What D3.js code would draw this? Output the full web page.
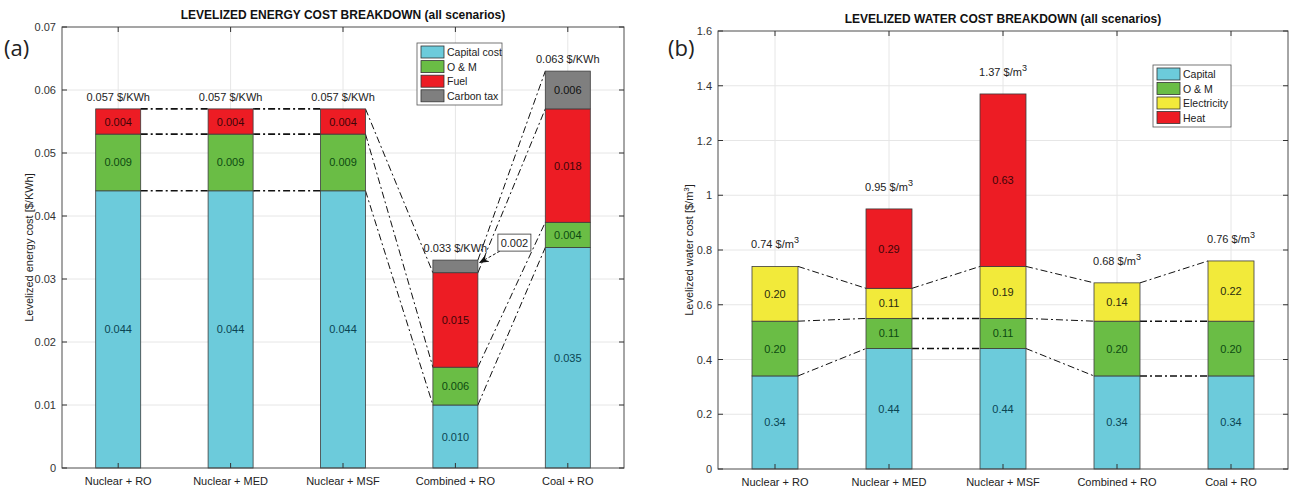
<!DOCTYPE html>
<html>
<head>
<meta charset="utf-8">
<script src="https://cdn.jsdelivr.net/npm/d3@7"></script>
<style>
  body { margin: 0; background: #fff; }
  svg { display: block; font-family: "Liberation Sans", Arial, sans-serif; }
</style>
</head>
<body>
<script>
// categories shared by both panels
const categories = ["Nuclear + RO", "Nuclear + MED", "Nuclear + MSF", "Combined + RO", "Coal + RO"];

// (a) levelized energy cost [$/KWh]
const energyCapital = [0.044, 0.044, 0.044, 0.010, 0.035];
const energyOM      = [0.009, 0.009, 0.009, 0.006, 0.004];
const energyFuel    = [0.004, 0.004, 0.004, 0.015, 0.018];
const energyCarbon  = [0, 0, 0, 0.002, 0.006];
const energyTotals  = ["0.057", "0.057", "0.057", "0.033", "0.063"];
const energyTicks   = [0, 0.01, 0.02, 0.03, 0.04, 0.05, 0.06, 0.07];
const energyLegend  = ["Capital cost", "O & M", "Fuel", "Carbon tax"];

// (b) levelized water cost [$/m3]
const waterCapital = [0.34, 0.44, 0.44, 0.34, 0.34];
const waterOM      = [0.20, 0.11, 0.11, 0.20, 0.20];
const waterElec    = [0.20, 0.11, 0.19, 0.14, 0.22];
const waterHeat    = [0, 0.29, 0.63, 0, 0];
const waterTotals  = ["0.74", "0.95", "1.37", "0.68", "0.76"];
const waterTicks   = [0, 0.2, 0.4, 0.6, 0.8, 1, 1.2, 1.4, 1.6];
const waterLegend  = ["Capital", "O & M", "Electricity", "Heat"];

const COLORS = {
  cyan: '#6ccbdb',
  green: '#6abd45',
  red: '#ed1c24',
  gray: '#7f7f7f',
  yellow: '#f2ea3a'
};
const TEXT_COLORS = {
  '#6ccbdb': '#0b4553',
  '#6abd45': '#0d4a12',
  '#ed1c24': '#3d0508',
  '#7f7f7f': '#111',
  '#f2ea3a': '#2a2a10'
};

const W = 1292, H = 492;
const svg = d3.select("body").append("svg")
  .attr("width", W)
  .attr("height", H)
  .attr("viewBox", [0, 0, W, H]);

const defs = svg.append("defs");
defs.append("marker")
    .attr("id", "arrow")
    .attr("viewBox", [0, 0, 10, 8])
    .attr("refX", 10)
    .attr("refY", 4)
    .attr("markerWidth", 10)
    .attr("markerHeight", 8)
    .attr("markerUnits", "userSpaceOnUse")
    .attr("orient", "auto")
  .append("path")
    .attr("d", "M0,0 L10,4 L0,8 L3,4 Z")
    .attr("fill", "#111");

function drawPanel(cfg) {
  const { left, right, top, bottom } = cfg.box;
  const g = svg.append("g");

  const x = d3.scalePoint().domain(categories).range([left, right]).padding(0.5);
  const y = d3.scaleLinear().domain([0, cfg.yMax]).range([bottom, top]);
  const bw = cfg.barWidth;

  // grid
  g.append("g").selectAll("line").data(categories).join("line")
    .attr("x1", d => x(d)).attr("x2", d => x(d))
    .attr("y1", top).attr("y2", bottom)
    .attr("stroke", "#e6e6e6").attr("stroke-width", 1);
  g.append("g").selectAll("line").data(cfg.ticks.slice(1, -1)).join("line")
    .attr("x1", left).attr("x2", right)
    .attr("y1", d => y(d)).attr("y2", d => y(d))
    .attr("stroke", "#e6e6e6").attr("stroke-width", 1);

  // stacked bars
  const rows = categories.map((c, i) => {
    let acc = 0;
    const segs = cfg.series.map((s, k) => {
      const y0 = acc;
      acc += s.values[i];
      return { cat: c, k, v: s.values[i], y0, y1: acc, color: s.color };
    });
    return { cat: c, i, segs, total: acc };
  });

  // dash-dot connectors between neighbouring bars
  const links = [];
  for (let i = 0; i < rows.length - 1; i++) {
    const a = rows[i], b = rows[i + 1];
    for (let k = 0; k < cfg.linkLevels; k++) {
      if (k >= 3 && (a.segs[k].v === 0 || b.segs[k].v === 0)) continue;
      links.push({ a, b, va: a.segs[k].y1, vb: b.segs[k].y1 });
    }
  }
  g.append("g").selectAll("line").data(links).join("line")
    .attr("x1", d => x(d.a.cat) + bw / 2)
    .attr("x2", d => x(d.b.cat) - bw / 2)
    .attr("y1", d => y(d.va))
    .attr("y2", d => y(d.vb))
    .attr("stroke", "#111")
    .attr("stroke-width", d => Math.abs(d.va - d.vb) < 1e-9 ? 1.6 : 1)
    .attr("stroke-dasharray", "7,3,2,3");

  const barG = g.append("g").selectAll("g").data(rows).join("g");
  barG.selectAll("rect").data(d => d.segs.filter(s => s.v > 0)).join("rect")
    .attr("x", d => x(d.cat) - bw / 2)
    .attr("width", bw)
    .attr("y", d => y(d.y1))
    .attr("height", d => y(d.y0) - y(d.y1))
    .attr("fill", d => d.color)
    .attr("stroke", "#3c3c3c")
    .attr("stroke-width", 0.8);

  barG.selectAll("text").data(d => d.segs.filter(s => s.v >= cfg.minLabel)).join("text")
    .attr("x", d => x(d.cat))
    .attr("y", d => (y(d.y0) + y(d.y1)) / 2 + 4)
    .attr("text-anchor", "middle")
    .attr("font-size", 11)
    .attr("fill", d => TEXT_COLORS[d.color])
    .text(d => d3.format(cfg.segFormat)(d.v));

  // totals above bars
  const tot = g.append("g").selectAll("text").data(rows).join("text")
    .attr("x", d => x(d.cat))
    .attr("y", d => y(d.total) - cfg.totalGap)
    .attr("text-anchor", "middle")
    .attr("font-size", 11)
    .attr("fill", "#222");
  tot.append("tspan").text(d => cfg.totals[d.i] + " " + cfg.unit);
  if (cfg.sup) {
    tot.append("tspan").attr("dy", -5).attr("font-size", 9).text(cfg.sup);
  }

  // axes box
  g.append("rect")
    .attr("x", left).attr("y", top)
    .attr("width", right - left).attr("height", bottom - top)
    .attr("fill", "none").attr("stroke", "#4d4d4d").attr("stroke-width", 1);

  // y ticks, both sides, pointing in
  const tk = g.append("g").selectAll("g").data(cfg.ticks).join("g");
  tk.append("line")
    .attr("x1", left).attr("x2", left + 5)
    .attr("y1", d => y(d)).attr("y2", d => y(d))
    .attr("stroke", "#333");
  tk.append("line")
    .attr("x1", right).attr("x2", right - 5)
    .attr("y1", d => y(d)).attr("y2", d => y(d))
    .attr("stroke", "#333");
  tk.append("text")
    .attr("x", left - 6)
    .attr("y", d => y(d) + 4)
    .attr("text-anchor", "end")
    .attr("font-size", 11)
    .attr("fill", "#333")
    .text(d => d3.format("~g")(d));

  // x ticks and labels
  const xt = g.append("g").selectAll("g").data(categories).join("g");
  xt.append("line")
    .attr("x1", d => x(d)).attr("x2", d => x(d))
    .attr("y1", bottom).attr("y2", bottom - 5)
    .attr("stroke", "#333");
  xt.append("line")
    .attr("x1", d => x(d)).attr("x2", d => x(d))
    .attr("y1", top).attr("y2", top + 5)
    .attr("stroke", "#333");
  xt.append("text")
    .attr("x", d => x(d))
    .attr("y", bottom + 17)
    .attr("text-anchor", "middle")
    .attr("font-size", 11)
    .attr("fill", "#222")
    .text(d => d);

  // title
  g.append("text")
    .attr("x", (left + right) / 2)
    .attr("y", top - 8)
    .attr("text-anchor", "middle")
    .attr("font-size", 12)
    .attr("font-weight", "bold")
    .attr("fill", "#111")
    .text(cfg.title);

  // y label
  const yl = g.append("text")
    .attr("transform", `translate(${cfg.yLabelX},${(top + bottom) / 2}) rotate(-90)`)
    .attr("text-anchor", "middle")
    .attr("font-size", 11)
    .attr("fill", "#222");
  yl.append("tspan").text(cfg.yLabel[0]);
  if (cfg.yLabel[1]) {
    yl.append("tspan").attr("dy", -4).attr("font-size", 8).text(cfg.yLabel[1]);
    yl.append("tspan").attr("dy", 4).text(cfg.yLabel[2]);
  }

  // panel letter
  g.append("text")
    .attr("x", cfg.letterX)
    .attr("y", 56)
    .attr("font-family", "'Open Sans', sans-serif")
    .attr("font-size", 22)
    .attr("fill", "#222")
    .text(cfg.letter);

  // legend
  const lg = cfg.legend;
  g.append("rect")
    .attr("x", lg.x).attr("y", lg.y)
    .attr("width", lg.w).attr("height", lg.h)
    .attr("fill", "#fff").attr("stroke", "#555").attr("stroke-width", 0.8);
  const item = g.append("g").selectAll("g").data(cfg.series).join("g")
    .attr("transform", (d, k) => `translate(${lg.x + 4},${lg.y + 9 + k * lg.step})`);
  item.append("rect")
    .attr("x", 0).attr("y", -6)
    .attr("width", 23).attr("height", 12)
    .attr("fill", d => d.color)
    .attr("stroke", "#333").attr("stroke-width", 0.8);
  item.append("text")
    .attr("x", 26).attr("y", 4)
    .attr("font-size", 10.5)
    .attr("fill", "#222")
    .text(d => d.name);

  return { x, y, rows, g };
}

const left = drawPanel({
  box: { left: 62, right: 624, top: 27, bottom: 468 },
  yMax: 0.07,
  ticks: energyTicks,
  barWidth: 45,
  series: [
    { name: energyLegend[0], values: energyCapital, color: COLORS.cyan },
    { name: energyLegend[1], values: energyOM, color: COLORS.green },
    { name: energyLegend[2], values: energyFuel, color: COLORS.red },
    { name: energyLegend[3], values: energyCarbon, color: COLORS.gray }
  ],
  linkLevels: 4,
  minLabel: 0.003,
  segFormat: ".3f",
  totals: energyTotals,
  unit: "$/KWh",
  totalGap: 8,
  title: "LEVELIZED ENERGY COST BREAKDOWN (all scenarios)",
  yLabel: ["Levelized energy cost [$/KWh]"],
  yLabelX: 33,
  letter: "(a)",
  letterX: 4,
  legend: { x: 417, y: 43, w: 85, h: 62, step: 14.6 }
});

// callout for the small carbon-tax slice of Combined + RO
{
  const { x, y, rows, g } = left;
  const r = rows[3];
  const tipX = x(r.cat) + 45 / 2 + 1;
  const tipY = y(r.total) + 3;
  const bx = tipX + 19, by = tipY - 29;
  g.append("line")
    .attr("x1", bx + 2).attr("y1", by + 17)
    .attr("x2", tipX).attr("y2", tipY)
    .attr("stroke", "#111").attr("stroke-width", 1)
    .attr("stroke-dasharray", "3,2")
    .attr("marker-end", "url(#arrow)");
  g.append("rect")
    .attr("x", bx).attr("y", by)
    .attr("width", 33).attr("height", 17)
    .attr("fill", "#fff").attr("stroke", "#333").attr("stroke-width", 0.8);
  g.append("text")
    .attr("x", bx + 16.5).attr("y", by + 13)
    .attr("text-anchor", "middle")
    .attr("font-size", 11)
    .attr("fill", "#222")
    .text(d3.format(".3f")(energyCarbon[3]));
}

drawPanel({
  box: { left: 718, right: 1288, top: 31, bottom: 469 },
  yMax: 1.6,
  ticks: waterTicks,
  barWidth: 46,
  series: [
    { name: waterLegend[0], values: waterCapital, color: COLORS.cyan },
    { name: waterLegend[1], values: waterOM, color: COLORS.green },
    { name: waterLegend[2], values: waterElec, color: COLORS.yellow },
    { name: waterLegend[3], values: waterHeat, color: COLORS.red }
  ],
  linkLevels: 3,
  minLabel: 0.01,
  segFormat: ".2f",
  totals: waterTotals,
  unit: "$/m",
  sup: "3",
  totalGap: 18,
  title: "LEVELIZED WATER COST BREAKDOWN (all scenarios)",
  yLabel: ["Levelized water cost [$/m", "3", "]"],
  yLabelX: 693,
  letter: "(b)",
  letterX: 668,
  legend: { x: 1153, y: 65, w: 78, h: 62, step: 14.5 }
});
</script>
</body>
</html>
